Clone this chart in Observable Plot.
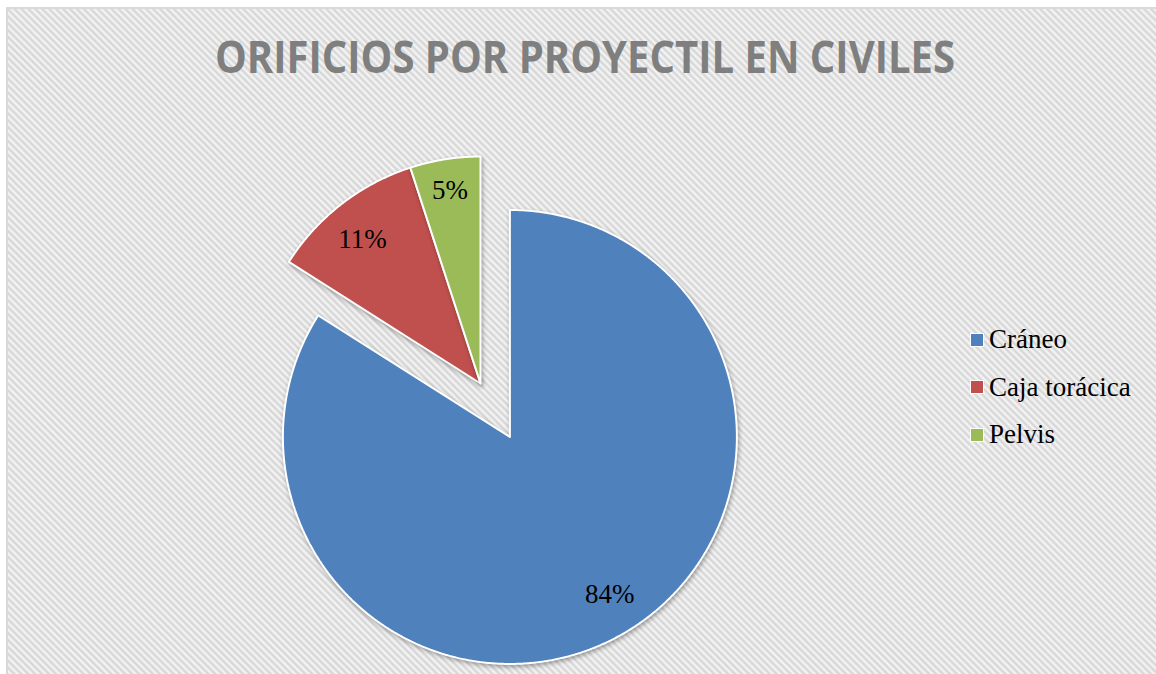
<!DOCTYPE html>
<html>
<head>
<meta charset="utf-8">
<script src="https://cdn.jsdelivr.net/npm/d3@7"></script>
<script src="https://cdn.jsdelivr.net/npm/@observablehq/plot@0.6"></script>
<style>
  html, body { margin: 0; padding: 0; background: #fff; }
  #wrap { position: relative; width: 1156px; height: 674px; overflow: hidden; background: #fff; }
  #panel {
    position: absolute; left: 6px; top: 7px; right: -4px; bottom: -4px;
    border-left: 2px solid #d9d9d9; border-top: 2px solid #d9d9d9;
    background: repeating-linear-gradient(45deg, #f7f7f7 0px, #d3d3d3 2.4px, #f7f7f7 4.9px);
  }
  #title {
    position: absolute; top: 34px; left: 585px; white-space: nowrap;
    font-family: "Open Sans", sans-serif; font-weight: 700; font-size: 44px; color: #7f7f7f;
    line-height: 1; transform-origin: 0 0;
  }
  #chart { position: absolute; left: 0; top: 0; }
  #chart g[aria-label="line"] path { filter: drop-shadow(1px 2px 2px rgba(0,0,0,0.35)); }
  #legend { position: absolute; left: 970px; top: 316px; font-family: "Liberation Serif", serif; font-size: 27px; color: #000; }
  .row { display: flex; align-items: center; height: 47.5px; }
  .sw { width: 12px; height: 12px; margin-right: 5px; border: 0.5px solid #fff; }
</style>
</head>
<body>
<div id="wrap">
  <div id="panel"></div>
  <div id="title"></div>
  <div id="chart"></div>
  <div id="legend"></div>
</div>
<script>
const title = "ORIFICIOS POR PROYECTIL EN CIVILES";
const categories = ["Cráneo", "Caja torácica", "Pelvis"];
const values = [84, 11, 5];
const labels = ["84%", "11%", "5%"];
const colors = ["#4f81bd", "#c0504d", "#9bbb59"];

const W = 1156, H = 674;
const cx = 480, cy = 383, R = 227;
const explodeDist = [61, 0, 0];
const labelFrac = [0.82, 0.82, 0.86];
const labelAngleShift = [-3.6, -1.5, 0].map(d => d * Math.PI / 180);

const arcs = d3.pie().sort(null)(values);

function pt(a, r, ox, oy) { return { x: ox + r * Math.sin(a), y: oy - r * Math.cos(a) }; }

const slices = arcs.map((a, i) => {
  const mid = (a.startAngle + a.endAngle) / 2;
  const o = pt(mid, explodeDist[i], cx, cy);
  const pts = [{ x: o.x, y: o.y }];
  const n = Math.max(4, Math.ceil((a.endAngle - a.startAngle) / 0.005));
  for (let k = 0; k <= n; k++) {
    const t = a.startAngle + (a.endAngle - a.startAngle) * k / n;
    pts.push(pt(t, R, o.x, o.y));
  }
  pts.push({ x: o.x, y: o.y });
  const lp = pt(mid + labelAngleShift[i], R * labelFrac[i], o.x, o.y);
  return { pts, label: { x: lp.x, y: lp.y, text: labels[i] } };
});

const marks = slices.map((s, i) => Plot.line(s.pts, {
  x: "x", y: "y", fill: colors[i], stroke: "#fff", strokeWidth: 2, strokeLinejoin: "miter", curve: "linear"
}));
marks.push(Plot.text(slices.map(s => s.label), {
  x: "x", y: "y", text: "text", fontSize: 27, fontFamily: "Liberation Serif, serif", fill: "#000"
}));

const plot = Plot.plot({
  width: W, height: H, margin: 0,
  x: { type: "linear", domain: [0, W], range: [0, W], axis: null },
  y: { type: "linear", domain: [0, H], range: [0, H], axis: null },
  style: { background: "transparent", overflow: "visible" },
  marks
});
document.getElementById("chart").appendChild(plot);

// title
const t = document.getElementById("title");
t.textContent = title;
const tw = t.getBoundingClientRect().width;
const target = 740;
t.style.transform = `translateX(${-target / 2}px) scaleX(${target / tw})`;

// legend
const lg = document.getElementById("legend");
categories.forEach((c, i) => {
  const r = document.createElement("div");
  r.className = "row";
  const sw = document.createElement("div");
  sw.className = "sw";
  sw.style.background = colors[i];
  const sp = document.createElement("span");
  sp.textContent = c;
  r.appendChild(sw); r.appendChild(sp);
  lg.appendChild(r);
});
</script>
</body>
</html>
